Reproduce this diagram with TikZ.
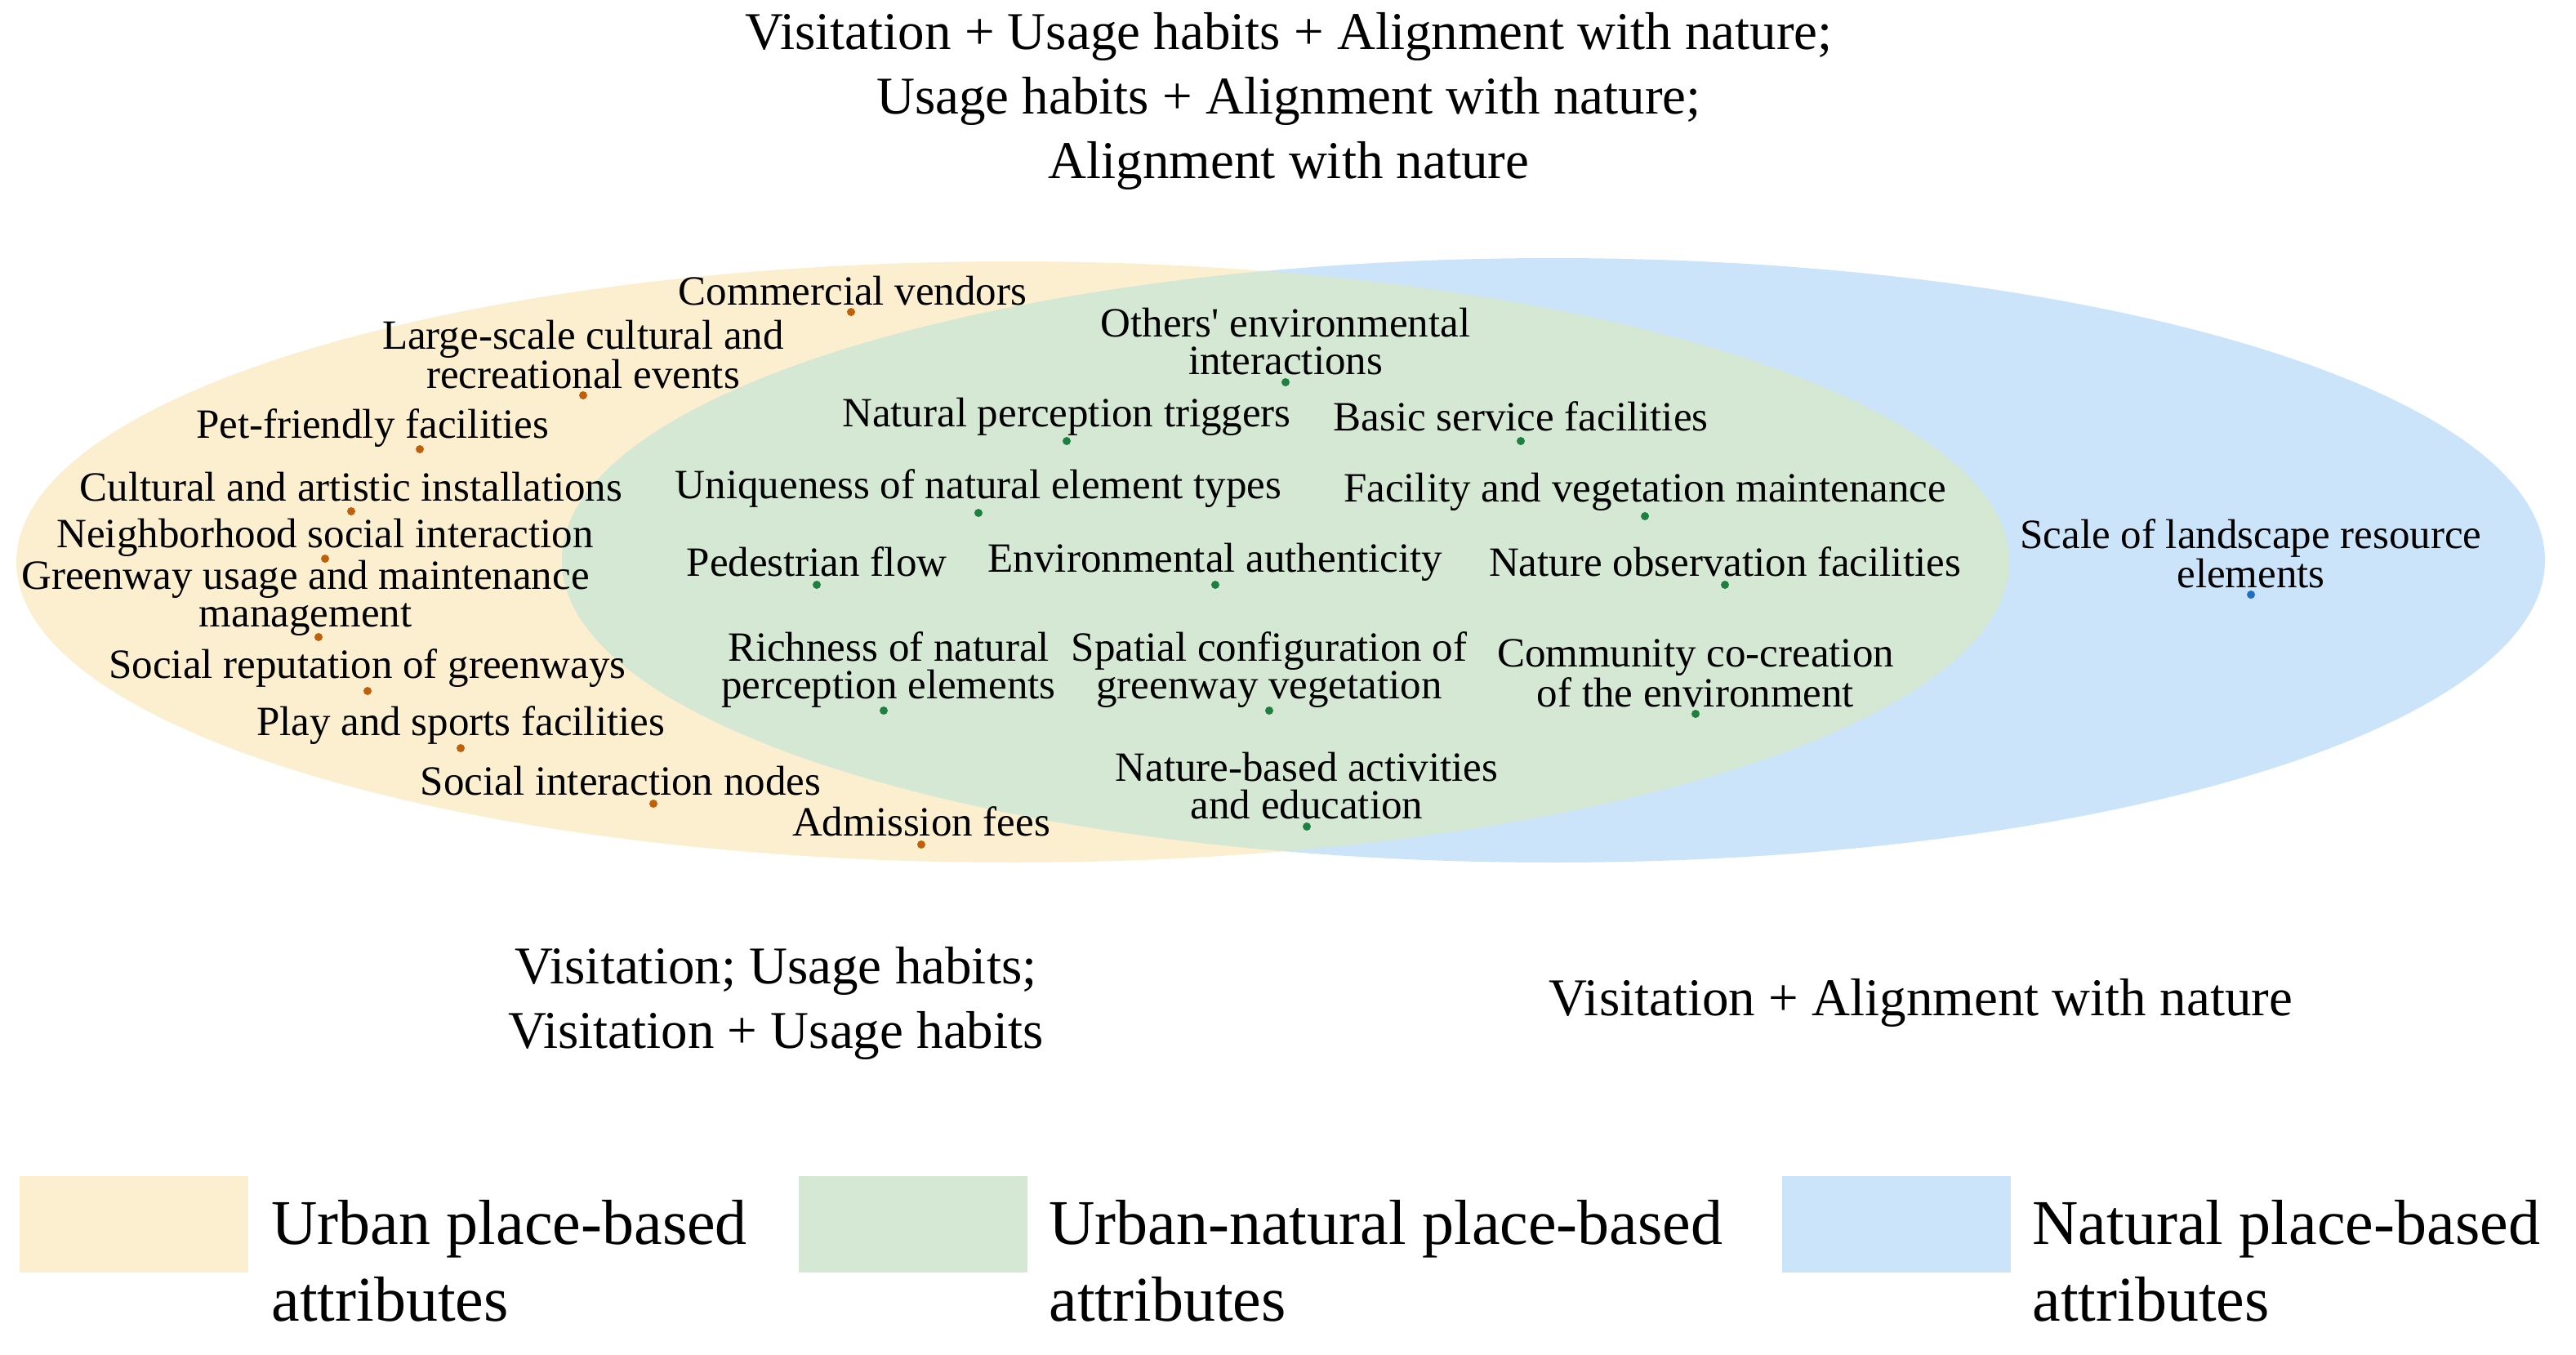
\documentclass[tikz,border=0pt]{standalone}
\usepackage{fontspec}
\setmainfont{Liberation Serif}
\begin{document}
\definecolor{cy}{HTML}{FCEFCF}
\definecolor{cg}{HTML}{D5E8D4}
\definecolor{cb}{HTML}{CCE4FA}
\definecolor{dy}{HTML}{C0600A}
\definecolor{dg}{HTML}{1E8040}
\definecolor{db}{HTML}{1F70C0}
\begin{tikzpicture}[x=1pt,y=-1pt,
 lab/.style={inner sep=0pt,align=center,font=\fontsize{25.5}{23}\selectfont},
 big/.style={inner sep=0pt,align=center,font=\fontsize{32.5}{39.5}\selectfont},
 leg/.style={inner sep=0pt,align=left,anchor=west,font=\fontsize{39}{47}\selectfont},
 dot/.style={circle,inner sep=0pt,minimum size=5pt}]
\useasboundingbox (0,0) rectangle (1577,829.5);
\fill[cy] (620,344) ellipse [x radius=610,y radius=184];
\fill[cb] (951,343) ellipse [x radius=607,y radius=185];
\begin{scope}
\clip (620,344) ellipse [x radius=610,y radius=184];
\fill[cg] (951,343) ellipse [x radius=607,y radius=185];
\end{scope}
\node[big] (t1) at (789,62) {Visitation + Usage habits + Alignment with nature;\\Usage habits + Alignment with nature;\\Alignment with nature};
\node[big] (t2) at (475,614) {Visitation; Usage habits;\\Visitation + Usage habits};
\node[big] (t3) at (1176,614) {Visitation + Alignment with nature};
% urban
\foreach \n/\dx/\dy/\lx/\ly/\t in {
a/521/191/522/178/{Commercial vendors},
b/357/242/357/217/{Large-scale cultural and\\recreational events},
c/257/275/228/262/{Pet-friendly facilities},
d/215/313/215/298/{Cultural and artistic installations},
e/199/342/199/329/{Neighborhood social interaction},
f/195/390/187/366/{Greenway usage and maintenance\\management},
g/225/423/225/409/{Social reputation of greenways},
h/282/458/282/444/{Play and sports facilities},
i/400/492/380/478/{Social interaction nodes},
j/564/517/564/503/{Admission fees}}
{\node[dot,fill=dy] (d\n) at (\dx,\dy) {}; \node[lab] (l\n) at (\lx,\ly) {\t};}
% shared
\foreach \n/\dx/\dy/\lx/\ly/\t in {
a/787/234/787/209/{Others\textquotesingle{} environmental\\interactions},
b/653/270/653/255/{Natural perception triggers},
c/931/270/931/255/{Basic service facilities},
d/599/314/599/299/{Uniqueness of natural element types},
e/1007/316/1007/301/{Facility and vegetation maintenance},
f/500/358/500/344/{Pedestrian flow},
g/744/358/744/344/{Environmental authenticity},
h/1056/358/1056/344/{Nature observation facilities},
i/541/435/544/410/{Richness of natural\\perception elements},
j/777/435/777/410/{Spatial configuration of\\greenway vegetation},
k/1038/437/1038/412/{Community co-creation\\of the environment},
l/800/506/800/481/{Nature-based activities\\and education}}
{\node[dot,fill=dg] (g\n) at (\dx,\dy) {}; \node[lab] (m\n) at (\lx,\ly) {\t};}
\node[dot,fill=db] (ba) at (1378,364) {};
\node[lab] (na) at (1378,339) {Scale of landscape resource\\elements};
% legend
\fill[cy] (12,720) rectangle (152,779);
\fill[cg] (489,720) rectangle (629,779);
\fill[cb] (1091,720) rectangle (1231,779);
\node[leg] (l1) at (166,772) {Urban place-based\\attributes};
\node[leg] (l2) at (642,772) {Urban-natural place-based\\attributes};
\node[leg] (l3) at (1244,772) {Natural place-based\\attributes};
\end{tikzpicture}
\end{document}
